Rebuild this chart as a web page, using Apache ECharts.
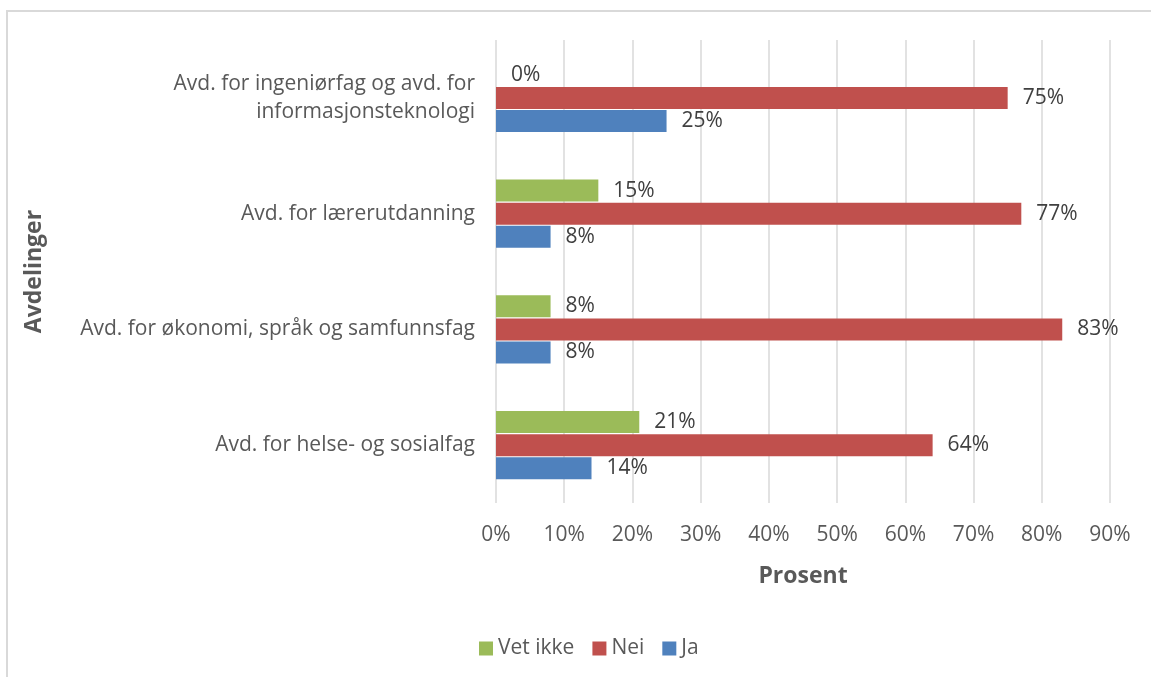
<!DOCTYPE html>
<html>
<head>
<meta charset="utf-8">
<script src="https://cdn.jsdelivr.net/npm/echarts@6/dist/echarts.min.js"></script>
<style>
  html, body { margin: 0; padding: 0; background: #fff; }
  #chart { width: 1151px; height: 677px; }
</style>
</head>
<body>
<div id="chart"></div>
<script>
// categories listed bottom to top (ECharts category y axis starts at the bottom)
const categories = [
  'Avd. for helse- og sosialfag',
  'Avd. for økonomi, språk og samfunnsfag',
  'Avd. for lærerutdanning',
  'Avd. for ingeniørfag og avd. for\ninformasjonsteknologi'
]
const vetIkke = [21, 8, 15, 0]
const nei = [64, 83, 77, 75]
const ja = [14, 8, 8, 25]
const xTicks = { min: 0, max: 90, interval: 10 }

const fontFamily = "'Open Sans', 'Noto Sans', sans-serif"

const labelStyle = {
  show: true,
  position: 'right',
  distance: 15,
  formatter: '{c}%',
  color: '#404040',
  fontSize: 21,
  fontFamily
}

function makeSeries(name, data, color) {
  return {
    name,
    type: 'bar',
    data,
    barWidth: 22,
    barGap: '5%',
    itemStyle: { color },
    label: labelStyle
  }
}

const chart = echarts.init(document.getElementById('chart'))

const option = {
  animation: false,
  textStyle: { fontFamily },
  graphic: [
    {
      type: 'rect',
      shape: { x: 7, y: 11, width: 1170, height: 700 },
      style: { fill: 'none', stroke: '#d9d9d9', lineWidth: 2 },
      silent: true
    }
  ],
  grid: {
    left: 496,
    right: 41,
    top: 40,
    bottom: 174
  },
  legend: {
    data: ['Vet ikke', 'Nei', 'Ja'],
    left: 474,
    top: 633,
    itemWidth: 14,
    itemHeight: 14,
    itemGap: 18,
    icon: 'rect',
    textStyle: { color: '#595959', fontSize: 21, fontFamily }
  },
  xAxis: {
    type: 'value',
    min: xTicks.min,
    max: xTicks.max,
    interval: xTicks.interval,
    name: 'Prosent',
    nameLocation: 'middle',
    nameGap: 62,
    nameTextStyle: { color: '#595959', fontSize: 23, fontWeight: 'bold', fontFamily },
    axisLine: { show: false },
    axisTick: { show: false },
    axisLabel: {
      formatter: '{value}%',
      color: '#595959',
      fontSize: 21,
      margin: 22,
      fontFamily
    },
    splitLine: { lineStyle: { color: '#d9d9d9', width: 1.5 } }
  },
  yAxis: {
    type: 'category',
    data: categories,
    name: 'Avdelinger',
    nameLocation: 'middle',
    nameGap: 450,
    nameRotate: 90,
    nameTextStyle: { color: '#595959', fontSize: 23, fontWeight: 'bold', fontFamily },
    axisLine: { show: false },
    axisTick: { show: false },
    axisLabel: {
      color: '#595959',
      fontSize: 21,
      margin: 21,
      lineHeight: 28,
      align: 'right',
      fontFamily
    },
    splitLine: { show: false }
  },
  series: [
    makeSeries('Vet ikke', vetIkke, '#9BBB59'),
    makeSeries('Nei', nei, '#C0504D'),
    makeSeries('Ja', ja, '#4F81BD')
  ]
}

chart.setOption(option)
</script>
</body>
</html>
